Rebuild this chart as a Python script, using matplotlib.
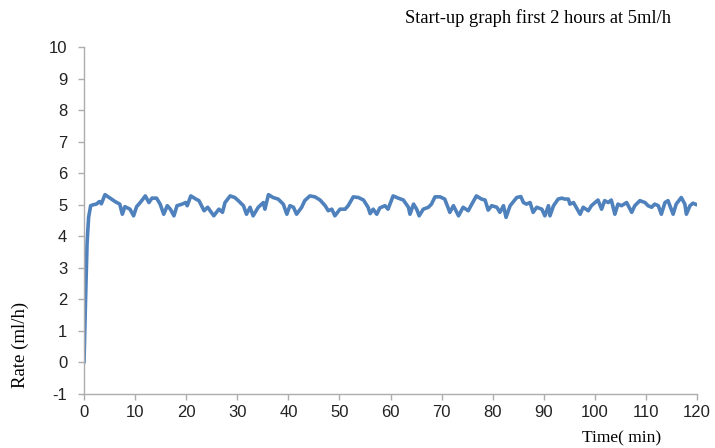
import matplotlib
matplotlib.use("Agg")
import matplotlib.pyplot as plt
from matplotlib import font_manager

# time (min) and rate (ml/h)
time_min = [0, 0.3, 0.6, 0.9, 1.3, 1.8, 2.4, 3.0, 3.4, 4.1, 5.1, 6.1, 7.0, 7.5, 8.0,
            9.0, 9.7, 10.3, 11.0, 12.0, 12.7, 13.3, 14.2, 14.9, 15.6, 16.3, 16.9,
            17.6, 18.2, 19.2, 19.9, 20.2, 20.9, 21.9, 22.5, 23.5, 24.2, 25.4, 26.4,
            27.1, 27.6, 28.6, 29.5, 30.2, 31.2, 31.8, 32.5, 33.1, 34.1, 35.1, 35.4,
            36.1, 37.0, 38.0, 39.0, 39.7, 40.3, 41.0, 41.6, 42.6, 43.2, 44.2, 45.2,
            46.2, 47.2, 47.8, 48.5, 49.1, 50.1, 51.1, 51.7, 52.7, 53.7, 54.7, 55.6,
            56.0, 56.6, 57.3, 57.9, 58.9, 59.5, 60.5, 61.5, 62.5, 63.5, 63.8, 64.5,
            65.1, 65.6, 66.4, 67.4, 68.0, 68.7, 69.7, 70.6, 71.6, 72.3, 73.3, 74.2,
            75.2, 75.9, 76.8, 77.8, 78.5, 79.1, 79.8, 80.8, 81.4, 82.1, 82.6, 83.4,
            84.7, 85.5, 86.0, 86.6, 87.3, 87.9, 88.6, 89.6, 90.2, 90.9, 91.2, 91.9,
            92.8, 93.5, 94.1, 94.8, 95.1, 95.8, 97.1, 97.7, 98.7, 99.3, 100.6, 101.3,
            101.9, 102.6, 103.2, 103.9, 104.5, 105.2, 106.2, 107.2, 107.8, 108.8,
            109.8, 110.4, 111.1, 111.7, 112.4, 113.0, 113.7, 114.3, 115.3, 115.9,
            116.9, 117.6, 117.9, 118.6, 119.2, 119.9]
rate = [0.0, 2.0, 3.8, 4.6, 4.97, 5.0, 5.02, 5.1, 5.03, 5.32, 5.21, 5.10, 5.02, 4.70, 4.94,
        4.86, 4.65, 4.94, 5.07, 5.28, 5.07, 5.21, 5.21, 5.02, 4.70, 4.97, 4.86,
        4.65, 4.97, 5.02, 5.07, 4.97, 5.28, 5.18, 5.13, 4.81, 4.92, 4.65, 4.86,
        4.76, 5.07, 5.28, 5.23, 5.13, 4.97, 4.70, 4.92, 4.65, 4.92, 5.07, 4.86,
        5.32, 5.23, 5.18, 5.02, 4.70, 4.97, 4.92, 4.70, 4.92, 5.13, 5.28, 5.25,
        5.15, 4.97, 4.81, 4.86, 4.65, 4.86, 4.86, 4.97, 5.25, 5.23, 5.15, 4.92,
        4.72, 4.86, 4.70, 4.90, 4.97, 4.86, 5.28, 5.21, 5.15, 4.92, 4.70, 5.02,
        4.86, 4.65, 4.86, 4.92, 5.02, 5.25, 5.25, 5.18, 4.76, 4.97, 4.65, 4.92,
        4.81, 5.02, 5.28, 5.18, 5.15, 4.83, 4.97, 4.92, 4.76, 4.97, 4.60, 4.97,
        5.23, 5.26, 5.07, 5.02, 5.07, 4.76, 4.92, 4.86, 4.65, 4.97, 4.65, 4.97,
        5.18, 5.21, 5.18, 5.18, 5.02, 5.07, 4.70, 4.92, 4.81, 4.97, 5.15, 4.86,
        5.13, 5.07, 5.15, 4.70, 5.02, 4.97, 5.07, 4.76, 4.97, 5.13,
        5.07, 4.97, 4.92, 5.02, 4.97, 4.70, 5.07, 5.13, 4.70, 5.02,
        5.23, 5.02, 4.70, 4.97, 5.05, 5.0]

x_ticks = list(range(0, 121, 10))
y_ticks = list(range(-1, 11))

plt.rcParams["axes.unicode_minus"] = False

installed = {f.name for f in font_manager.fontManager.ttflist}
tick_font = "Liberation Sans Narrow" if "Liberation Sans Narrow" in installed else "Liberation Sans"
serif = "Liberation Serif"

fig = plt.figure(figsize=(7.15, 4.48), dpi=100)
ax = fig.add_axes([0.1175, 0.1205, 0.8575, 0.7745])

ax.plot(time_min, rate, color="#4F81BD", linewidth=2.6,
        solid_joinstyle="round", solid_capstyle="round")

ax.set_xlim(0, 120)
ax.set_ylim(-1, 10)
ax.set_xticks(x_ticks)
ax.set_yticks(y_ticks)

for side in ["top", "right"]:
    ax.spines[side].set_visible(False)
for side in ["left", "bottom"]:
    ax.spines[side].set_color("#ADADAD")
    ax.spines[side].set_linewidth(1.0)

ax.tick_params(axis="both", colors="#ADADAD", length=4, width=1.0,
               labelcolor="#222222", labelsize=12)
ax.tick_params(axis="x", pad=4)
ax.tick_params(axis="y", pad=8)
for lbl in ax.get_xticklabels() + ax.get_yticklabels():
    lbl.set_fontfamily(tick_font)

fig.text(538 / 715, 1 - 18 / 448, "Start-up graph first 2 hours at 5ml/h",
         ha="center", va="center", fontsize=13.3, family=serif)
fig.text(20 / 715, 1 - 345 / 448, "Rate (ml/h)", rotation=90,
         ha="center", va="center", fontsize=13.5, family=serif)
fig.text(622 / 715, 1 - 438 / 448, "Time( min)",
         ha="center", va="center", fontsize=12.5, family=serif)

fig.savefig("out.png", dpi=100)
